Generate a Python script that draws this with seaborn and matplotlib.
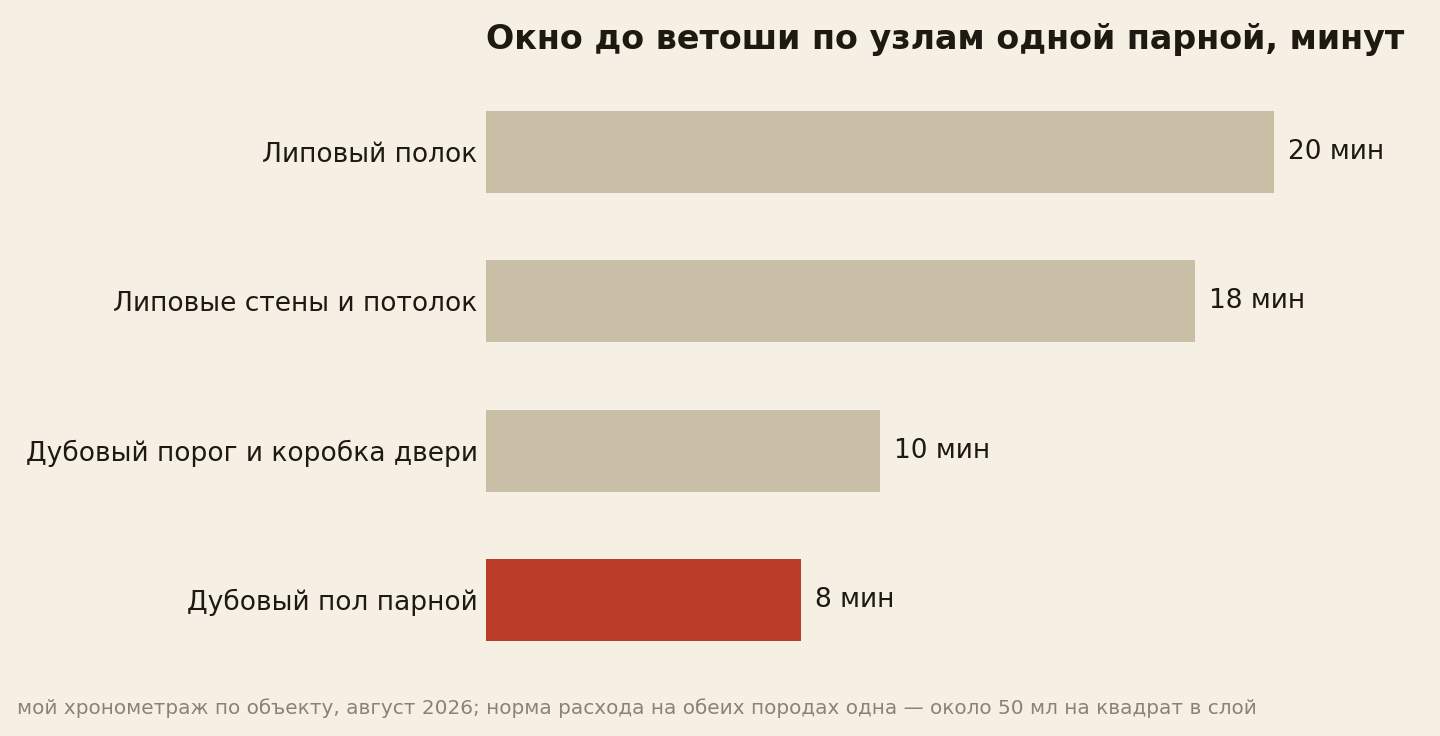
import matplotlib
matplotlib.use("Agg")
import matplotlib.pyplot as plt
import seaborn as sns
import pandas as pd

categories = ["Липовый полок", "Липовые стены и потолок",
              "Дубовый порог и коробка двери", "Дубовый пол парной"]
minutes = [20, 18, 10, 8]
highlight = "Дубовый пол парной"

title = "Окно до ветоши по узлам одной парной, минут"
footer = ("мой хронометраж по объекту, август 2026; норма расхода на обеих породах одна "
          "— около 50 мл на квадрат в слой")

bg = "#F6F0E4"
base_col = "#C9BFA7"
hi_col = "#BC3D28"
ink = "#1E1A12"

sns.set_theme(style="white")
plt.rcParams["font.family"] = ["DejaVu Sans"]

df = pd.DataFrame({"cat": categories, "min": minutes})
palette = {c: (hi_col if c == highlight else base_col) for c in categories}

fig = plt.figure(figsize=(14.4, 7.36), dpi=100, facecolor=bg)
ax = fig.add_axes([486 / 1440, 1 - 674.5 / 736, (1420 - 486) / 1440, (674.5 - 77.5) / 736])
ax.set_facecolor(bg)

sns.barplot(data=df, x="min", y="cat", hue="cat", palette=palette, order=categories,
            width=0.55, legend=False, ax=ax, saturation=1, linewidth=0)

ax.set_xlim(0, (1420 - 486) / 39.4)
ax.set_ylim(3.5, -0.5)
for s in ax.spines.values():
    s.set_visible(False)
ax.set_xticks([])
ax.set_xlabel("")
ax.set_ylabel("")
ax.tick_params(axis="y", length=0, pad=6, labelsize=19.1, labelcolor=ink)

for container in ax.containers:
    ax.bar_label(container, labels=[f"{int(v)} мин" for v in container.datavalues],
                 padding=10, fontsize=19, color=ink)

fig.text(486 / 1440, 1 - 40 / 736, title, fontsize=24, fontweight="bold",
         color=ink, ha="left", va="center")
fig.text(17 / 1440, 1 - 708 / 736, footer, fontsize=14.4, color="#8A8273",
         ha="left", va="center")

fig.savefig("out.png", dpi=100, facecolor=bg)
